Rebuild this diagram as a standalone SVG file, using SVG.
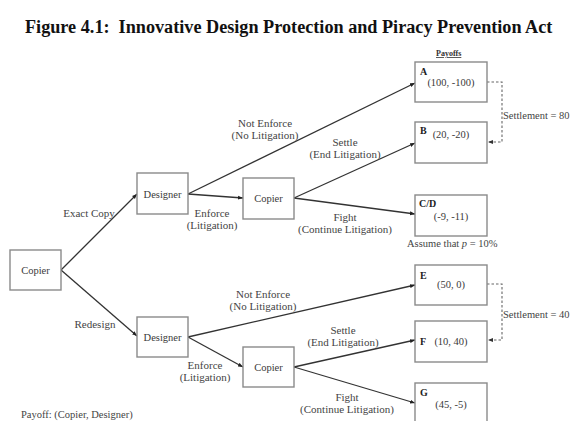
<svg xmlns="http://www.w3.org/2000/svg" width="574" height="421" viewBox="0 0 574 421">
  <style>
    .bg { fill: #ffffff; }
    .node rect { fill: #ffffff; stroke: #8a8a8a; stroke-width: 1.4; }
    .node text { font-family: "Liberation Serif", "DejaVu Serif", serif; font-size: 10.5px; fill: #3a3a3a; }
    .node text.key { font-weight: bold; font-size: 10px; fill: #222; }
    .node text.mid { text-anchor: middle; }
    .edge { stroke: #333; stroke-width: 1.3; fill: none; marker-end: url(#arrow); }
    .settle { stroke: #666; stroke-width: 1.1; stroke-dasharray: 2.5 2; fill: none; marker-end: url(#arrow-s); }
    .lbl { font-family: "Liberation Serif", "DejaVu Serif", serif; font-size: 11px; fill: #444; text-anchor: middle; }
    .note { font-family: "Liberation Serif", "DejaVu Serif", serif; font-size: 10.5px; fill: #444; }
    .title { font-family: "Liberation Serif", "DejaVu Serif", serif; font-weight: bold; font-size: 18.2px; fill: #111; white-space: pre; }
    .head { font-family: "Liberation Serif", "DejaVu Serif", serif; font-weight: bold; font-size: 8px; fill: #333; text-decoration: underline; }
  </style>
  <defs>
    <marker id="arrow" viewBox="0 0 10 10" refX="10" refY="5" markerWidth="5" markerHeight="5" orient="auto" markerUnits="userSpaceOnUse">
      <path d="M0,1 L10,5 L0,9 Z" fill="#222"/>
    </marker>
    <marker id="arrow-s" viewBox="0 0 10 10" refX="10" refY="5" markerWidth="5" markerHeight="5" orient="auto" markerUnits="userSpaceOnUse">
      <path d="M0,1 L10,5 L0,9 Z" fill="#333"/>
    </marker>
  </defs>

  <rect class="bg" x="0" y="0" width="574" height="421"/>

  <text class="title" x="25" y="33">Figure 4.1:  Innovative Design Protection and Piracy Prevention Act</text>
  <text class="head" x="436" y="56">Payoffs</text>

  <!-- connectors -->
  <g id="connectors">
    <line class="edge" x1="61" y1="270" x2="137" y2="194"/>
    <line class="edge" x1="61" y1="270" x2="137" y2="336"/>
    <line class="edge" x1="188" y1="194" x2="415" y2="83"/>
    <line class="edge" x1="188" y1="194" x2="243" y2="198"/>
    <line class="edge" x1="294" y1="198" x2="415" y2="143"/>
    <line class="edge" x1="294" y1="198" x2="415" y2="214"/>
    <line class="edge" x1="188" y1="337" x2="415" y2="285"/>
    <line class="edge" x1="188" y1="337" x2="243" y2="367"/>
    <line class="edge" x1="294" y1="367" x2="415" y2="340"/>
    <line class="edge" x1="294" y1="367" x2="415" y2="403"/>
    <polyline class="settle" points="487,82 502,82 502,142 488,142"/>
    <polyline class="settle" points="487,284 502,284 502,340 488,340"/>
  </g>

  <!-- branch labels -->
  <g id="edge-labels">
    <text class="lbl" x="89" y="217">Exact Copy</text>
    <text class="lbl" x="95" y="328">Redesign</text>
    <text class="lbl" x="265" y="127">Not Enforce</text>
    <text class="lbl" x="265" y="139">(No Litigation)</text>
    <text class="lbl" x="345" y="146">Settle</text>
    <text class="lbl" x="345" y="158">(End Litigation)</text>
    <text class="lbl" x="212" y="217">Enforce</text>
    <text class="lbl" x="212" y="229">(Litigation)</text>
    <text class="lbl" x="345" y="221">Fight</text>
    <text class="lbl" x="345" y="233">(Continue Litigation)</text>
    <text class="lbl" x="263" y="298">Not Enforce</text>
    <text class="lbl" x="263" y="310">(No Litigation)</text>
    <text class="lbl" x="343" y="334">Settle</text>
    <text class="lbl" x="343" y="346">(End Litigation)</text>
    <text class="lbl" x="205" y="369">Enforce</text>
    <text class="lbl" x="205" y="381">(Litigation)</text>
    <text class="lbl" x="347" y="401">Fight</text>
    <text class="lbl" x="347" y="413">(Continue Litigation)</text>
    <text class="note" x="503" y="119">Settlement = 80</text>
    <text class="note" x="503" y="318">Settlement = 40</text>
    <text class="note" x="407" y="247">Assume that <tspan font-style="italic">p</tspan> = 10%</text>
  </g>

  <!-- decision nodes -->
  <g id="copier-root" class="node">
    <rect x="10" y="250" width="51" height="40"/>
    <text class="mid" x="35.5" y="273.5">Copier</text>
  </g>
  <g id="designer-copy" class="node">
    <rect x="137" y="173" width="51" height="41"/>
    <text class="mid" x="162.5" y="197.5">Designer</text>
  </g>
  <g id="copier-copy" class="node">
    <rect x="243" y="178" width="51" height="41"/>
    <text class="mid" x="268.5" y="201.5">Copier</text>
  </g>
  <g id="designer-redesign" class="node">
    <rect x="137" y="317" width="51" height="40"/>
    <text class="mid" x="162.5" y="340.5">Designer</text>
  </g>
  <g id="copier-redesign" class="node">
    <rect x="243" y="347" width="51" height="40"/>
    <text class="mid" x="268.5" y="370.5">Copier</text>
  </g>

  <!-- payoff nodes -->
  <g id="payoff-a" class="node">
    <rect x="415" y="62" width="72" height="40"/>
    <text class="key" x="420" y="75">A</text>
    <text class="mid" x="451" y="86">(100, -100)</text>
  </g>
  <g id="payoff-b" class="node">
    <rect x="415" y="122" width="72" height="41"/>
    <text class="key" x="420" y="134">B</text>
    <text class="mid" x="451" y="138">(20, -20)</text>
  </g>
  <g id="payoff-cd" class="node">
    <rect x="415" y="195" width="72" height="41"/>
    <text class="key" x="419" y="207">C/D</text>
    <text class="mid" x="451" y="220">(-9, -11)</text>
  </g>
  <g id="payoff-e" class="node">
    <rect x="415" y="265" width="72" height="40"/>
    <text class="key" x="420" y="279">E</text>
    <text class="mid" x="451" y="288">(50, 0)</text>
  </g>
  <g id="payoff-f" class="node">
    <rect x="415" y="321" width="72" height="41"/>
    <text class="key" x="420" y="345">F</text>
    <text class="mid" x="451" y="345">(10, 40)</text>
  </g>
  <g id="payoff-g" class="node">
    <rect x="415" y="383" width="72" height="41"/>
    <text class="key" x="420" y="396">G</text>
    <text class="mid" x="451" y="408">(45, -5)</text>
  </g>

  <text class="note" x="21" y="418">Payoff: (Copier, Designer)</text>
</svg>
